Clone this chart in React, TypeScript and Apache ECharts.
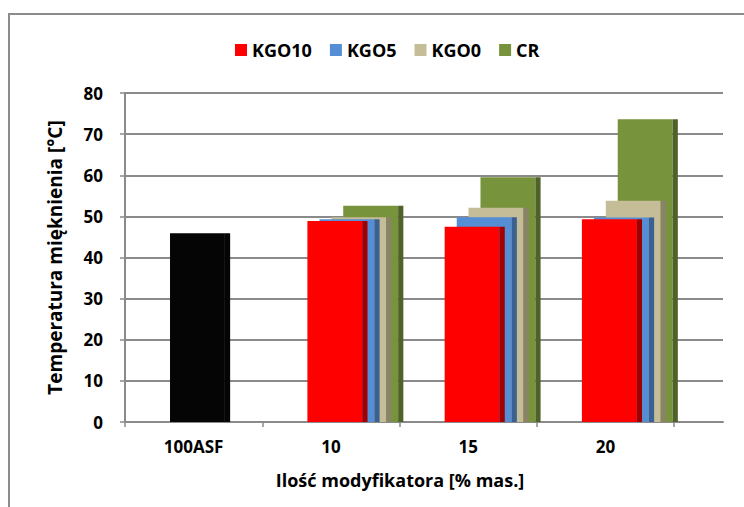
import React, { useEffect, useRef } from "react";
import * as echarts from "echarts";

const categories = ["100ASF", "10", "15", "20"];
const asf = [45.9, null, null, null];
const kgo10 = [null, 48.9, 47.5, 49.3];
const kgo5 = [null, 49.3, 49.8, 49.7];
const kgo0 = [null, 49.8, 52.1, 53.8];
const cr = [null, 52.6, 59.5, 73.6];
const yTicks = { min: 0, max: 80, interval: 10 };
const seriesNames = ["KGO10", "KGO5", "KGO0", "CR"];

const FONT = "Open Sans";
const GRID_COLOR = "#8a8a8a";

function toData(arr: (number | null)[]) {
  const out: number[][] = [];
  arr.forEach((v, i) => {
    if (v !== null && v !== undefined) out.push([i, v]);
  });
  return out;
}

function barSeries(name: string, arr: (number | null)[], face: string, side: string, offset: number) {
  return {
    type: "custom",
    name,
    data: toData(arr),
    itemStyle: { color: face },
    renderItem: (params: any, api: any) => {
      const x = api.value(0);
      const v = api.value(1);
      const base = api.coord([x, 0]);
      const top = api.coord([x, v]);
      const band = api.size([1, 0])[0];
      const faceW = band * 0.4;
      const sideW = band * 0.038;
      const left = base[0] + band * offset;
      const h = base[1] - top[1];
      return {
        type: "group",
        children: [
          { type: "rect", shape: { x: left, y: top[1], width: faceW, height: h }, style: { fill: face } },
          { type: "rect", shape: { x: left + faceW, y: top[1], width: sideW, height: h }, style: { fill: side } },
        ],
      };
    },
  };
}

export default function App() {
  const ref = useRef<HTMLDivElement>(null);
  useEffect(() => {
    if (!ref.current) return;
    const chart = echarts.init(ref.current, null, { renderer: "svg" });
    const band = (674 - 125) / 4;
    const xMax = -0.5 + (723 - 125) / band;
    chart.setOption({
      animation: false,
      backgroundColor: "#ffffff",
      textStyle: { fontFamily: FONT },
      grid: { left: 125, right: 21, top: 93, bottom: 85, containLabel: false },
      legend: {
        data: seriesNames,
        left: 235,
        top: 41,
        padding: 0,
        icon: "rect",
        itemWidth: 12,
        itemHeight: 12,
        itemGap: 18,
        textStyle: { fontFamily: FONT, fontWeight: "bold", fontSize: 18, color: "#000" },
      },
      xAxis: {
        type: "value",
        min: -0.5,
        max: xMax,
        splitLine: { show: false },
        axisLine: { show: true, onZero: false, lineStyle: { color: GRID_COLOR, width: 2 } },
        axisTick: {
          show: true,
          length: 5,
          customValues: [-0.5, 0.5, 1.5, 2.5, 3.5],
          lineStyle: { color: GRID_COLOR, width: 1.5 },
        },
        axisLabel: {
          customValues: [0, 1, 2, 3],
          formatter: (v: number) => categories[Math.round(v)] ?? "",
          margin: 16,
          fontFamily: FONT,
          fontWeight: "bold",
          fontSize: 17,
          color: "#000",
        },
      },
      yAxis: {
        type: "value",
        min: yTicks.min,
        max: yTicks.max,
        interval: yTicks.interval,
        name: "Temperatura mięknienia [°C]",
        nameLocation: "middle",
        nameGap: 61,
        nameTextStyle: { fontFamily: FONT, fontWeight: "bold", fontSize: 19, color: "#000" },
        axisLine: { show: true, onZero: false, lineStyle: { color: GRID_COLOR, width: 2 } },
        axisTick: { show: true, length: 5, lineStyle: { color: GRID_COLOR, width: 1.5 } },
        splitLine: { show: true, lineStyle: { color: GRID_COLOR, width: 2 } },
        axisLabel: { margin: 22, fontFamily: FONT, fontWeight: "bold", fontSize: 17, color: "#000" },
      },
      graphic: [
        {
          type: "rect",
          shape: { x: 9, y: 14, width: 900, height: 700 },
          style: { fill: "none", stroke: "#8c8c8c", lineWidth: 2 },
          silent: true,
          z: 100,
        },
        {
          type: "text",
          x: 400,
          y: 480,
          style: {
            text: "Ilość modyfikatora [% mas.]",
            fontFamily: FONT,
            fontWeight: "bold",
            fontSize: 18,
            fill: "#000",
            textAlign: "center",
            textVerticalAlign: "middle",
          },
        },
      ],
      series: [
        barSeries("CR", cr, "#77933c", "#4f6228", 0.09),
        barSeries("KGO0", kgo0, "#c4bd97", "#8a8466", 0.003),
        barSeries("KGO5", kgo5, "#558ed5", "#3a6191", -0.083),
        barSeries("KGO10", kgo10, "#ff0000", "#a00000", -0.171),
        barSeries("100ASF", asf, "#050505", "#050505", -0.172),
      ],
    });
    return () => chart.dispose();
  }, []);
  return <div ref={ref} style={{ position: "fixed", left: 0, top: 0, width: 744, height: 507 }} />;
}
